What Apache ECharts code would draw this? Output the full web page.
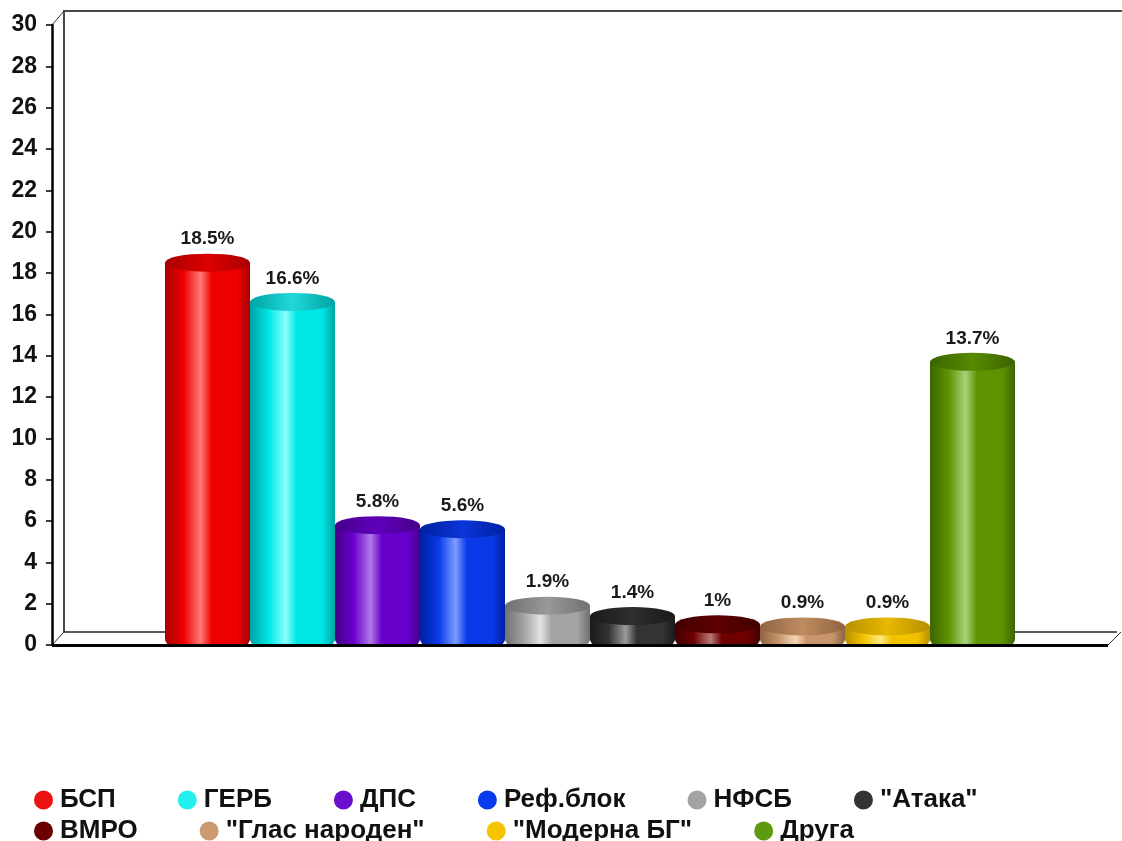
<!DOCTYPE html>
<html>
<head>
<meta charset="utf-8">
<script src="https://cdn.jsdelivr.net/npm/echarts@6/dist/echarts.min.js"></script>
<style>
html,body{margin:0;padding:0;background:#fff;}
#c{width:1122px;height:841px;}
</style>
</head>
<body>
<div id="c"></div>
<script>
// ---- data ----
const parties = ['БСП', 'ГЕРБ', 'ДПС', 'Реф.блок', 'НФСБ', '"Атака"', 'ВМРО', '"Глас народен"', '"Модерна БГ"', 'Друга'];
const values = [18.5, 16.6, 5.8, 5.6, 1.9, 1.4, 1, 0.9, 0.9, 13.7];
const legendRow1 = ['БСП', 'ГЕРБ', 'ДПС', 'Реф.блок', 'НФСБ', '"Атака"'];
const legendRow2 = ['ВМРО', '"Глас народен"', '"Модерна БГ"', 'Друга'];
const yMin = 0, yMax = 30, yStep = 2;

// ---- styles ----
const baseColors  = ['#ec0000', '#00e6e6', '#6a00cc', '#0a3ae8', '#a3a3a3', '#333333', '#6e0000', '#c8966a', '#f2c200', '#5e9400'];
const lightColors = ['#ff7a7a', '#8affff', '#b07ae6', '#7e9cff', '#e2e2e2', '#9a9a9a', '#b87a7a', '#f3d6b8', '#ffea80', '#a9d27a'];
const darkColors  = ['#a80000', '#00a3a3', '#45008a', '#0020a0', '#707070', '#1a1a1a', '#420000', '#8e6440', '#b88f00', '#3c6400'];
const topColors   = ['#dd0000', '#20d8d8', '#6000bb', '#0a36d8', '#999999', '#2e2e2e', '#5e0000', '#bf8c60', '#e8b800', '#568a00'];
const legendColors = ['#ee1111', '#22eeee', '#6a0fcc', '#0a3aee', '#a3a3a3', '#333333', '#6a0000', '#cc9a70', '#f5c400', '#5e9a10'];

const FONT = 'Liberation Sans, Arial, Helvetica, sans-serif';
const chart = echarts.init(document.getElementById('c'), null, {renderer: 'canvas'});

function bodyGradient(i) {
  return new echarts.graphic.LinearGradient(0, 0, 1, 0, [
    {offset: 0, color: darkColors[i]},
    {offset: 0.22, color: baseColors[i]},
    {offset: 0.42, color: lightColors[i]},
    {offset: 0.55, color: baseColors[i]},
    {offset: 0.85, color: baseColors[i]},
    {offset: 1, color: darkColors[i]}
  ]);
}

const series = [];
parties.forEach((name, i) => {
  series.push({
    type: 'bar',
    name: name,
    data: [values[i]],
    barWidth: 85,
    barGap: '0%',
    itemStyle: {color: bodyGradient(i), borderRadius: [0, 0, 6, 6]},
    label: {
      show: true,
      position: 'top',
      distance: 14,
      formatter: '{c}%',
      fontFamily: FONT,
      fontWeight: 'bold',
      fontSize: 19,
      color: '#1a1a1a'
    },
    z: 2
  });
});
parties.forEach((name, i) => {
  series.push({
    type: 'pictorialBar',
    name: name,
    data: [values[i]],
    barWidth: 85,
    barGap: '0%',
    symbol: 'circle',
    symbolSize: [85, 18],
    symbolPosition: 'end',
    symbolOffset: [0, '-50%'],
    itemStyle: {
      color: new echarts.graphic.LinearGradient(0, 0, 1, 0, [
        {offset: 0, color: darkColors[i]},
        {offset: 0.5, color: topColors[i]},
        {offset: 1, color: darkColors[i]}
      ])
    },
    z: 3,
    silent: true
  });
});

const legendText = {
  fontFamily: FONT, fontWeight: 'bold', fontSize: 26, color: '#111',
  padding: [0, 0, 0, 2]
};
function legendData(names) {
  return names.map(n => ({name: n, itemStyle: {color: legendColors[parties.indexOf(n)]}}));
}

const option = {
  backgroundColor: '#ffffff',
  animation: false,
  color: baseColors,
  grid: {left: 65, right: 7, top: 25, bottom: 196, containLabel: false},
  xAxis: {
    type: 'category',
    data: [''],
    axisLine: {show: false},
    axisTick: {show: false},
    axisLabel: {show: false},
    splitLine: {show: false}
  },
  yAxis: {
    type: 'value',
    min: yMin, max: yMax, interval: yStep,
    offset: 13,
    axisLine: {show: true, lineStyle: {color: '#000', width: 2.5}},
    axisTick: {show: true, length: 6, lineStyle: {color: '#000', width: 1.5}},
    axisLabel: {
      margin: 15,
      fontFamily: FONT, fontWeight: 'bold', fontSize: 23, color: '#111'
    },
    splitLine: {show: false}
  },
  legend: [
    {
      data: legendData(legendRow1), left: 29, top: 782, icon: 'circle',
      itemWidth: 19, itemHeight: 19, itemGap: 62,
      textStyle: legendText, selectedMode: false
    },
    {
      data: legendData(legendRow2), left: 29, top: 813, icon: 'circle',
      itemWidth: 19, itemHeight: 19, itemGap: 62,
      textStyle: legendText, selectedMode: false
    }
  ],
  graphic: [
    // back wall
    {type: 'polyline', shape: {points: [[64, 632], [64, 11], [1122, 11]]},
     style: {stroke: '#4a4a4a', lineWidth: 2, fill: null}, z: 0, silent: true},
    {type: 'line', shape: {x1: 64, y1: 632, x2: 1117, y2: 632},
     style: {stroke: '#222', lineWidth: 1.5}, z: 0, silent: true},
    // depth diagonals
    {type: 'line', shape: {x1: 52, y1: 25, x2: 64, y2: 11},
     style: {stroke: '#333', lineWidth: 1}, z: 0, silent: true},
    {type: 'line', shape: {x1: 52, y1: 645, x2: 64, y2: 632},
     style: {stroke: '#333', lineWidth: 1}, z: 0, silent: true},
    {type: 'line', shape: {x1: 1108, y1: 645, x2: 1121, y2: 632},
     style: {stroke: '#333', lineWidth: 1}, z: 0, silent: true},
    // floor front edge
    {type: 'line', shape: {x1: 52, y1: 645.5, x2: 1108, y2: 645.5},
     style: {stroke: '#000', lineWidth: 3}, z: 100, silent: true}
  ],
  series: series
};
chart.setOption(option);
</script>
</body>
</html>
